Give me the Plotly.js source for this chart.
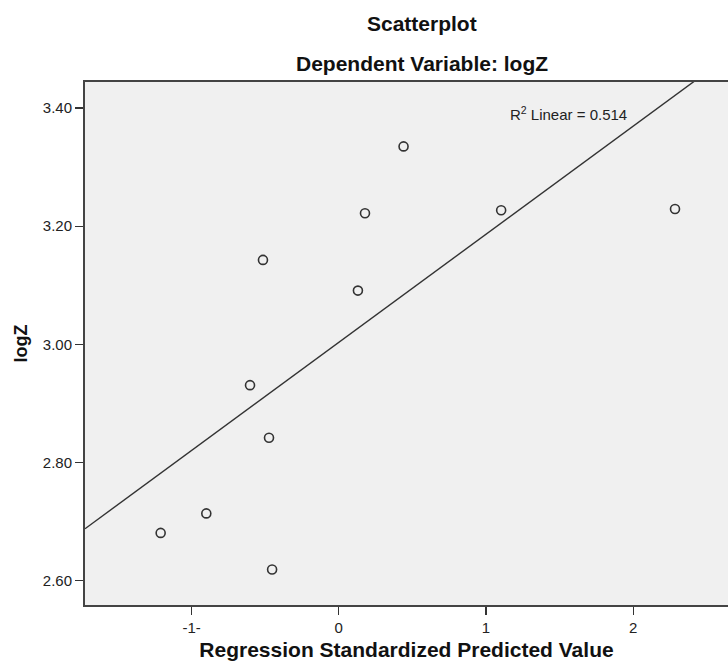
<!DOCTYPE html>
<html>
<head>
<meta charset="utf-8">
<script src="https://cdn.plot.ly/plotly-3.0.1.min.js"></script>
<style>
  html, body { margin: 0; padding: 0; background: #ffffff; }
  #chart { width: 728px; height: 668px; }
</style>
</head>
<body>
<div id="chart"></div>
<script>
// Regression standardized predicted values (x) and observed logZ (y)
const predictedValue = [-1.210, -0.900, -0.453, 0.440, 0.178, 1.103, -0.515, 0.130, -0.603, -0.474, 2.284];
const logZ          = [ 2.681,  2.714,  2.619, 3.335, 3.222, 3.227,  3.143, 3.091,  2.931,  2.842, 3.229];

const xTickVals = [-1, 0, 1, 2];
const xTickText = ['-1-', '0', '1', '2'];
const yTickVals = [2.6, 2.8, 3.0, 3.2, 3.4];
const yTickText = ['2.60', '2.80', '3.00', '3.20', '3.40'];

const chartTitle = 'Scatterplot';
const chartSubtitle = 'Dependent Variable: logZ';
const xTitle = 'Regression Standardized Predicted Value';
const yTitle = 'logZ';
const rSquaredLabel = 'R<sup>2</sup> Linear = 0.514';

const xRange = [-1.724, 2.644];
const yRange = [2.559, 3.444];

// least-squares fit line computed from the data
const n = predictedValue.length;
const mx = predictedValue.reduce((a, b) => a + b, 0) / n;
const my = logZ.reduce((a, b) => a + b, 0) / n;
let sxy = 0, sxx = 0;
for (let i = 0; i < n; i++) {
  sxy += (predictedValue[i] - mx) * (logZ[i] - my);
  sxx += (predictedValue[i] - mx) ** 2;
}
const slope = sxy / sxx;
const intercept = my - slope * mx;
const fitX = [xRange[0], xRange[1]];
const fitY = fitX.map(v => intercept + slope * v);

const font = 'Liberation Sans, Arial, sans-serif';

const traces = [
  {
    x: fitX, y: fitY, type: 'scatter', mode: 'lines',
    line: { color: '#333333', width: 1.4 },
    hoverinfo: 'skip', showlegend: false
  },
  {
    x: predictedValue, y: logZ, type: 'scatter', mode: 'markers',
    marker: { symbol: 'circle-open', size: 9, color: '#333333', line: { width: 1.6, color: '#333333' } },
    showlegend: false, cliponaxis: false
  }
];

const layout = {
  width: 728, height: 668,
  margin: { l: 85, r: 0, t: 82, b: 63 },
  paper_bgcolor: '#ffffff',
  plot_bgcolor: '#f0f0f0',
  font: { family: font, color: '#222222' },
  showlegend: false,
  xaxis: {
    range: xRange, autorange: false,
    tickvals: xTickVals, ticktext: xTickText,
    ticks: 'outside', ticklen: 8, tickwidth: 1.3, tickcolor: '#333333',
    showgrid: false, zeroline: false,
    showline: true, linecolor: '#444444', linewidth: 2, mirror: true,
    tickfont: { family: font, size: 15, color: '#222222' },
    title: { text: xTitle, font: { family: font, size: 21, color: '#111111', weight: 'bold' }, standoff: 7 },
    automargin: false
  },
  yaxis: {
    range: yRange, autorange: false,
    tickvals: yTickVals, ticktext: yTickText,
    ticks: 'outside', ticklen: 8, tickwidth: 1.3, tickcolor: '#333333',
    showgrid: false, zeroline: false,
    showline: true, linecolor: '#444444', linewidth: 2, mirror: false,
    tickfont: { family: font, size: 15, color: '#222222' },
    title: { text: yTitle, font: { family: font, size: 18, color: '#111111', weight: 'bold' }, standoff: 10 },
    automargin: false
  },
  annotations: [
    {
      text: chartTitle, xref: 'paper', yref: 'paper', x: 0.524, y: 1.112,
      xanchor: 'center', yanchor: 'middle', showarrow: false,
      font: { family: font, size: 21, color: '#111111', weight: 'bold' }
    },
    {
      text: chartSubtitle, xref: 'paper', yref: 'paper', x: 0.524, y: 1.035,
      xanchor: 'center', yanchor: 'middle', showarrow: false,
      font: { family: font, size: 21, color: '#111111', weight: 'bold' }
    },
    {
      text: rSquaredLabel, xref: 'x', yref: 'y', x: 1.151, y: 3.391,
      xanchor: 'left', yanchor: 'middle', showarrow: false,
      font: { family: font, size: 15, color: '#222222' }
    }
  ]
};

Plotly.newPlot('chart', traces, layout, { displayModeBar: false, staticPlot: true });
</script>
</body>
</html>
